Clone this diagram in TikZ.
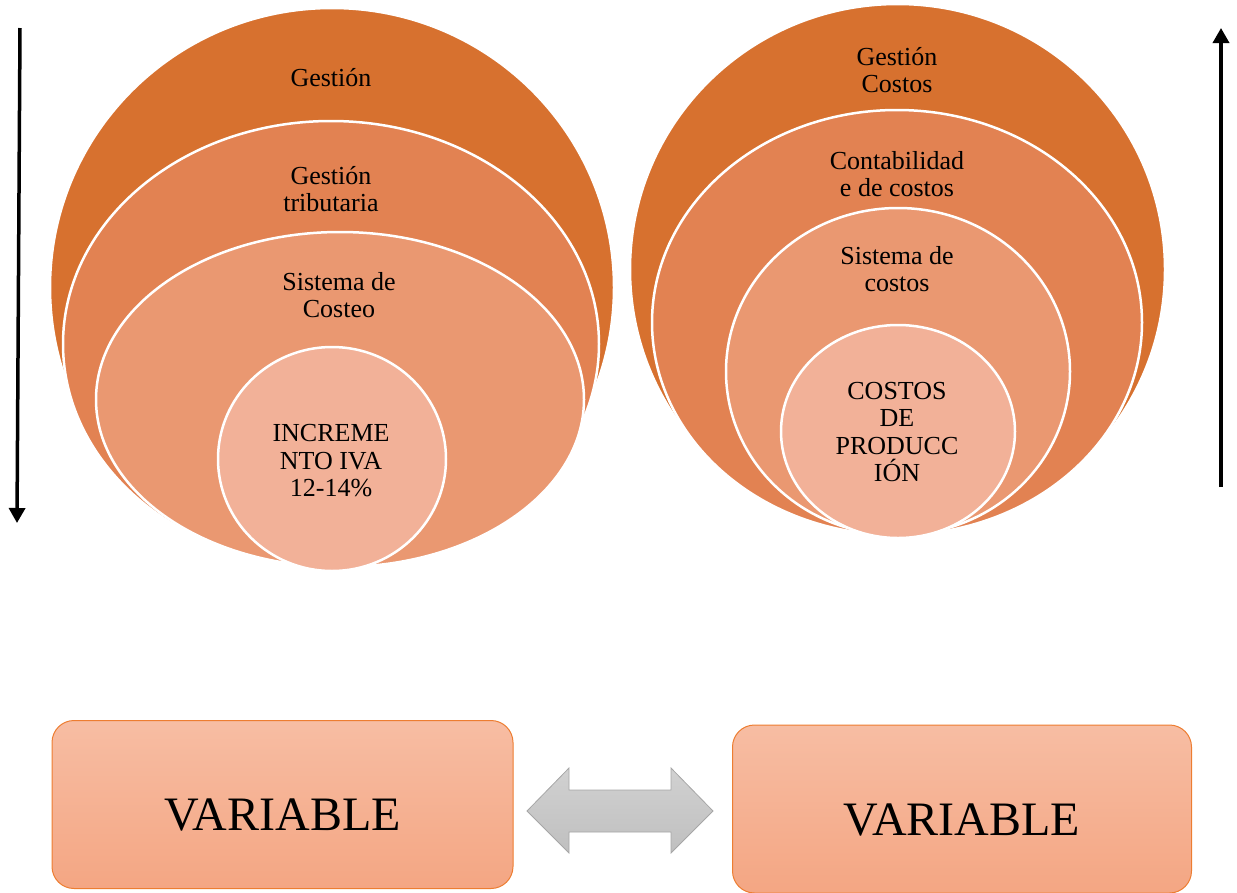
\documentclass[tikz,border=0pt]{standalone}
\usepackage{fontspec}
\setmainfont{Liberation Serif}
\usetikzlibrary{shapes.geometric,arrows.meta,positioning}
\definecolor{ringA}{HTML}{D7712F}
\definecolor{ringB}{HTML}{E28252}
\definecolor{ringC}{HTML}{EA9871}
\definecolor{ringD}{HTML}{F2B198}
\definecolor{boxtop}{HTML}{F7BDA3}
\definecolor{boxbot}{HTML}{F4A683}
\definecolor{boxline}{HTML}{ED7D31}
\tikzset{
    ring/.style={ellipse,draw=white,line width=2.5pt,inner sep=0pt},
    ringtext/.style={align=center,inner sep=0pt,font=\fontsize{26}{27.5}\selectfont},
    varbox/.style={rectangle,rounded corners=22pt,draw=boxline,line width=1pt,top color=boxtop,bottom color=boxbot},
    vartext/.style={inner sep=0pt,text depth=0pt,font=\fontsize{48}{54}\selectfont},
}

\begin{document}
\begin{tikzpicture}[x=1pt,y=-1pt,flow/.style={line width=3.5pt,-{Triangle[length=15pt,width=16pt]}}]
    \useasboundingbox (0,0) rectangle (1237,892);

    % left rings
    \node[ring,fill=ringA,minimum width=564pt,minimum height=559pt] (gest) at (332,287.5) {};
    \node[ring,fill=ringB,minimum width=536pt,minimum height=446pt] (gtrib) at (331,344) {};
    \node[ring,fill=ringC,minimum width=488pt,minimum height=335pt] (scosteo) at (340,399.5) {};
    \node[ring,fill=ringD,minimum width=228pt,minimum height=224pt] (iva) at (332,459) {};

    \node[ringtext] (gest-t) at (331,78) {Gestión};
    \node[ringtext] (gtrib-t) at (331,189) {Gestión\\tributaria};
    \node[ringtext] (scosteo-t) at (339,295) {Sistema de\\Costeo};
    \node[ringtext] (iva-t) at (331,461) {INCREME\\NTO IVA\\12-14\%};

    % right rings
    \node[ring,fill=ringA,minimum width=535pt,minimum height=531pt] (gcost) at (897.5,269.5) {};
    \node[ring,fill=ringB,minimum width=490pt,minimum height=425pt] (cont) at (897,322.5) {};
    \node[ring,fill=ringC,minimum width=344pt,minimum height=327pt] (scostos) at (898,371.5) {};
    \node[ring,fill=ringD,minimum width=234pt,minimum height=213pt] (prod) at (898,431.5) {};

    \node[ringtext] (gcost-t) at (897,70) {Gestión\\Costos};
    \node[ringtext] (cont-t) at (897,174) {Contabilidad\\e de costos};
    \node[ringtext] (scostos-t) at (897,269) {Sistema de\\costos};
    \node[ringtext] (prod-t) at (897,432) {COSTOS\\DE\\PRODUCC\\IÓN};

    % side arrows
    \coordinate (downA) at (20,28);
    \coordinate (downB) at (17,523);
    \coordinate (upA) at (1221,487);
    \coordinate (upB) at (1221,28);
    \draw[flow] (downA) -- (downB);
    \draw[flow] (upA) -- (upB);

    % variables
    \node[varbox,minimum width=461pt,minimum height=168pt] (varL) at (282.5,804.5) {};
    \node[varbox,minimum width=459pt,minimum height=168pt] (varR) at (962,809) {};
    \node[vartext] (varL-t) at (282.5,815) {VARIABLE};
    \node[vartext] (varR-t) at (962,820) {VARIABLE};

    \draw[draw=black!35,top color=black!18,bottom color=black!25,line width=0.8pt]
        (527,811) -- (569,768) -- (569,790) -- (671,790) -- (671,768) -- (713,811)
        -- (671,853) -- (671,832) -- (569,832) -- (569,853) -- cycle;
\end{tikzpicture}
\end{document}
